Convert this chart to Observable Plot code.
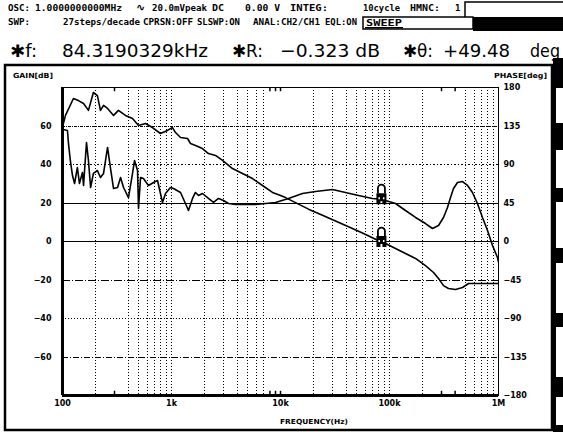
<!DOCTYPE html>
<html><head><meta charset="utf-8">
<script src="https://cdn.jsdelivr.net/npm/d3@7"></script>
<script src="https://cdn.jsdelivr.net/npm/@observablehq/plot@0.6"></script>
<style>body{margin:0;background:#fff}svg{display:block}</style>
</head><body><div id="chart"></div>
<script>
// ---- data ----
const gainFreq = [100,106.5,126,140,156,173,192,209,223,238,259,294,326,378,439,498,577,669,792,918,1021,1088,1210,1403,1494,1660,1923,2183,2533,2936,3627,4480,5532,6833,8445,10000,11120,13730,18070,24270,31960,42060,56490,74430,84319.0329,91900,113500,140200,173300,213900,253400,281800,312900,347600,403300,467800,531000,656000,809700,1000000];
const gainDb = [59.4,65.5,74.3,73.2,71.7,68.1,77.4,75.8,68.1,70.7,69.1,65.5,68.1,65.5,63.9,60.3,61.3,59.2,56.1,57.7,59.2,56.6,54.0,53.5,50.9,49.9,48.3,45.7,44.7,42.1,37.9,35.3,32.7,29.1,25.5,23.9,22.8,20.2,16.8,13.6,10.6,7.7,4.4,1.2,-0.323,-1.0,-3.6,-6.2,-8.8,-12.5,-16.1,-19.2,-22.9,-24.4,-24.9,-23.9,-21.8,-21.8,-21.8,-21.8];
const phaseFreq = [100,101.5,111,113.5,118,123.5,129,137,143,152.5,156,166,173,181,192,209,223,238,259,276,294,320,341,363,403,439,458,488,498,520,553,615,684,744,827,881,979,1043,1210,1343,1431,1559,1660,1770,1923,2183,2427,2698,3000,3334,3866,4775,5898,7285,8998,11840,15910,20950,29990,39460,51960,69790,84319.0329,91900,113500,140200,173300,213900,247900,281800,312900,340400,362900,386500,420600,467800,520000,577000,641000,713000,793000,881000,979000,1000000];
const phaseDeg = [54,131,129.7,114.5,94.7,77.1,67.8,86.5,67.8,80.6,65.5,115.7,94.7,63.1,79.5,83.0,74.8,79.5,109.9,85.3,61.9,63.1,74.8,63.1,51.4,79.5,94.7,83.0,38.6,74.8,73.6,65.5,69.0,71.3,45.6,56.1,63.1,61.9,57.3,44.4,36.2,50.3,57.3,53.8,56.1,50.3,45.6,50.3,47.9,44.4,43.2,43.2,43.2,44.4,45.6,50.3,56.1,58.4,60.8,57.3,53.8,50.3,49.48,47.9,44.4,36.2,28.1,21.0,15.2,18.7,28.1,39.7,51.4,61.9,69.0,70.1,65.5,57.3,44.4,28.1,12.9,-4.7,-18.7,-24];
const markerFreq = [84319.0329];
const markerGain = [-0.323];
const markerPhase = [49.48];
const gainTicks = [60,40,20,0,-20,-40,-60];
const phaseTicks = [180,135,90,45,0,-45,-90,-135,-180];
const freqTicks = [100,1000,10000,100000,1000000];
const freqTickLabels = ["100","1k","10k","100k","1M"];
const gridFreqs = [200,400,500,600,700,800,900,1000,2000,3000,4000,5000,6000,7000,20000,30000,40000,50000,60000,70000,80000,90000,100000,200000,500000,600000,700000,800000,900000];
const shortTickFreqs = [300,8000,9000,10000,300000,400000];

const PH = 80/180; // phase -> gain-axis units
const gain = gainFreq.map((f,i)=>({f, v:gainDb[i]}));
const phase = phaseFreq.map((f,i)=>({f, v:phaseDeg[i]}));
const marker = markerFreq.map((f,i)=>({f, g:markerGain[i], p:markerPhase[i]}));

const lockTop = {draw(c){c.moveTo(-3.5,-6);c.lineTo(-3.5,-11);c.arc(0,-11,3.5,Math.PI,2*Math.PI);c.lineTo(3.5,-6);}};
const lockBody = {draw(c){c.rect(-5,-6,10,8);c.rect(-5,2,4,3);c.rect(1,2,4,3);}};
const lockHoles = {draw(c){c.rect(-3,-2,1.5,2);c.rect(1.5,-2,1.5,2);}};

const F = "DejaVu Sans";
const crisp = {shapeRendering:"crispEdges", stroke:"#000", strokeWidth:1};
const chart = Plot.plot({
  width:563, height:432,
  marginLeft:62, marginRight:65, marginTop:87, marginBottom:37,
  style:{background:"#fff", fontFamily:F, overflow:"visible"},
  x:{type:"log", domain:[100,1e6]},
  y:{domain:[-80,80]},
  marks:[
    Plot.ruleX(gridFreqs,{...crisp, strokeDasharray:"1,2"}),
    Plot.ruleX(shortTickFreqs,{y1:80, y2:77.8, stroke:"#000", strokeWidth:1.5}),
    Plot.ruleX(shortTickFreqs,{y1:-80, y2:-77.8, stroke:"#000", strokeWidth:1.5}),
    Plot.ruleY([60],{...crisp, strokeDasharray:"3,1,1,1"}),
    Plot.ruleY([40],{...crisp, strokeDasharray:"2,2,1,2"}),
    Plot.ruleY([20,0],{...crisp}),
    Plot.ruleY([-20],{...crisp, strokeDasharray:"8,2,1,2"}),
    Plot.ruleY([-40],{...crisp, strokeDasharray:"1,2"}),
    Plot.ruleY([-60],{...crisp, strokeDasharray:"6,2,1,2"}),
    Plot.frame({stroke:"#000", strokeWidth:1}),
    Plot.ruleX([100],{stroke:"#000", strokeWidth:3}),
    Plot.ruleY([-80],{stroke:"#000", strokeWidth:3}),
    Plot.line(gain,{x:"f", y:"v", stroke:"#000", strokeWidth:1.6, clip:true}),
    Plot.line(phase,{x:"f", y:d=>d.v*PH, stroke:"#000", strokeWidth:1.6, clip:true}),
    Plot.dot(marker,{x:"f", y:"g", symbol:lockTop, fill:"#fff", stroke:"#000", strokeWidth:1.8}),
    Plot.dot(marker,{x:"f", y:"g", symbol:lockBody, fill:"#000", stroke:"none"}),
    Plot.dot(marker,{x:"f", y:"g", symbol:lockHoles, fill:"#fff", stroke:"none"}),
    Plot.dot(marker,{x:"f", y:d=>d.p*PH, symbol:lockTop, fill:"#fff", stroke:"#000", strokeWidth:1.8}),
    Plot.dot(marker,{x:"f", y:d=>d.p*PH, symbol:lockBody, fill:"#000", stroke:"none"}),
    Plot.dot(marker,{x:"f", y:d=>d.p*PH, symbol:lockHoles, fill:"#fff", stroke:"none"}),
    Plot.axisY({anchor:"left", ticks:gainTicks, tickSize:0, tickPadding:11, fontSize:8, fontWeight:"bold", label:null}),
    Plot.axisY({anchor:"right", ticks:phaseTicks.map(p=>p*PH), tickFormat:v=>String(Math.round(v/PH)).replace("-","\u2212"), tickSize:0, tickPadding:5, fontSize:8, fontWeight:"bold", label:null}),
    Plot.axisX({ticks:freqTicks, tickFormat:d=>freqTickLabels[freqTicks.indexOf(d)], tickSize:0, tickPadding:5, fontSize:8, fontWeight:"bold", label:null})
  ]
});
document.getElementById("chart").appendChild(chart);

// ---- instrument screen decoration ----
const svg = d3.select(chart);
const deco = svg.append("g").attr("text-anchor","start");
deco.append("rect").attr("x",5).attr("y",65).attr("width",547).attr("height",365).attr("fill","none").attr("stroke","#000").attr("stroke-width",2.5);
// right soft-key strip
deco.append("rect").attr("x",553).attr("y",58).attr("width",10).attr("height",374).attr("fill","#000");
[[88,123],[150,188],[202,248],[263,313],[327,377],[397,425]].forEach(([a,b])=>{
  deco.append("rect").attr("x",556).attr("y",a).attr("width",7).attr("height",b-a).attr("fill","#fff");
});
function T(x,y,s,size,opts={}){
  const t = deco.append("text").attr("x",x).attr("y",y).text(s)
    .attr("font-family",opts.family||"DejaVu Sans Mono").attr("font-size",size)
    .attr("font-weight",opts.weight||"bold").attr("fill",opts.fill||"#000")
    .attr("text-anchor",opts.anchor||"start");
  if(opts.len){t.attr("textLength",opts.len).attr("lengthAdjust","spacingAndGlyphs");}
  return t;
}
// line 1
T(8,11,"OSC:",9,{len:22});
T(35,11,"1.0000000000MHz",9,{len:87});
T(136,11,"\u223F",11,{family:F});
T(152,11,"20.0mVpeak",9,{len:55});
T(212,11,"DC",9,{len:12});
T(245,11,"0.00 V",9,{len:35});
T(290,11,"INTEG:",9,{len:38});
T(363,11,"10cycle",9,{len:37});
T(410,11,"HMNC:",9,{len:30});
T(455,11,"1",9);
deco.append("rect").attr("x",465).attr("y",2).attr("width",100).attr("height",16).attr("fill","#fff").attr("stroke","#000").attr("stroke-width",1.5);
// line 2
T(8,25,"SWP:",9,{len:22});
T(63,25,"27steps/decade",9,{len:77});
T(143,25,"CPRSN:OFF",9,{len:50});
T(197,25,"SLSWP:ON",9,{len:43});
T(253,25,"ANAL:CH2/CH1",9,{len:67});
T(325,25,"EQL:ON",9,{len:32});
deco.append("rect").attr("x",363).attr("y",17).attr("width",110).attr("height",12).attr("fill","#fff").attr("stroke","#000").attr("stroke-width",1.5);
deco.append("rect").attr("x",365).attr("y",27).attr("width",38).attr("height",1.5).attr("fill","#000");
T(366,26,"SWEEP",9,{len:36});
deco.append("rect").attr("x",473).attr("y",17).attr("width",90).attr("height",14).attr("fill","#000");
// line 3
T(10,57,"\u2731f:",17,{family:F,weight:"normal",len:27});
T(62,57,"84.3190329kHz",18,{family:F,weight:"normal",len:146});
T(232,57,"\u2731R:",17,{family:F,weight:"normal",len:31});
T(280,57,"\u22120.323 dB",18,{family:F,weight:"normal",len:100});
T(403,57,"\u2731\u03B8:",17,{family:F,weight:"normal",len:30});
T(443,57,"+49.48",18,{family:F,weight:"normal",len:67});
T(530,57,"deg",18,{family:F,weight:"normal",len:30});
// axis titles
T(13,78,"GAIN[dB]",7,{family:F,len:40});
T(494,78,"PHASE[deg]",7,{family:F,len:53});
T(314,424,"FREQUENCY(Hz)",7,{family:F,len:68,anchor:"middle"});
</script></body></html>
